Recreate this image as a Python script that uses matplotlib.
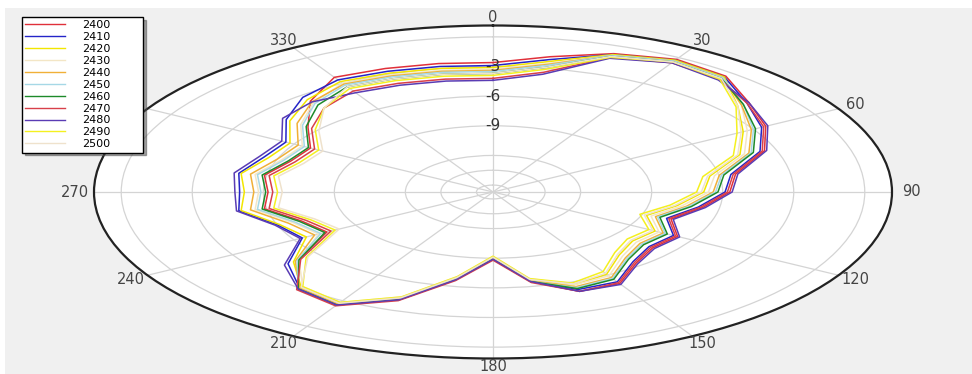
import numpy as np
import matplotlib
matplotlib.use("Agg")
import matplotlib.pyplot as plt
from matplotlib.patches import Rectangle

# angles in degrees, 10 deg steps, clockwise from north
angles = list(range(0, 360, 10))

freqs = ["2400", "2410", "2420", "2430", "2440", "2450",
         "2460", "2470", "2480", "2490", "2500"]
colors = ["#e0303a", "#2424c8", "#f2e600", "#f3e6c6", "#f0b038", "#a6d8e6",
          "#1d8a2a", "#d8404a", "#5a3cb4", "#f4f020", "#efe2cc"]

# normalized gain (dB)
g2400 = [-2.6, -1.8, -0.8, -0.2, -0.4, -1.6, -2.4, -3.5, -5.3, -5.7, -6.7, -7.7,
         -6.7, -6.9, -6.3, -5.0, -5.0, -6.5, -8.9, -6.7, -4.1, -2.5, -2.9, -5.0,
         -7.6, -7.1, -5.9, -6.2, -5.9, -6.6, -6.8, -5.5, -3.7, -2.3, -2.4, -2.5]
g2410 = [-2.9, -2.1, -0.9, -0.3, -0.5, -1.7, -2.6, -3.7, -5.5, -5.9, -6.9, -7.9,
         -6.9, -7.1, -6.5, -5.2, -5.2, -6.6, -9.0, -6.8, -4.2, -2.6, -3.0, -4.4,
         -6.4, -6.0, -4.8, -5.0, -4.8, -5.4, -5.6, -4.3, -3.2, -2.6, -2.7, -2.8]
g2420 = [-3.1, -2.3, -0.9, -0.3, -0.5, -2.2, -3.5, -4.6, -6.4, -6.8, -7.8, -8.8,
         -7.8, -8.0, -7.4, -6.1, -5.7, -6.7, -9.1, -6.9, -4.3, -2.7, -3.1, -4.7,
         -6.6, -6.1, -4.9, -5.2, -4.9, -5.6, -5.8, -4.5, -3.5, -2.8, -2.9, -3.0]
g2430 = [-3.3, -2.5, -1.0, -0.4, -0.6, -2.0, -3.3, -4.4, -6.2, -6.6, -7.6, -8.6,
         -7.6, -7.8, -7.2, -5.9, -5.7, -6.8, -9.2, -7.0, -4.4, -2.8, -3.2, -5.0,
         -7.2, -6.7, -5.5, -5.8, -5.5, -6.2, -6.4, -5.1, -3.9, -3.0, -3.1, -3.2]
g2440 = [-3.4, -2.6, -1.0, -0.4, -0.6, -2.0, -3.1, -4.2, -6.0, -6.4, -7.4, -8.4,
         -7.4, -7.6, -7.0, -5.7, -5.5, -6.6, -9.0, -6.8, -4.2, -2.6, -3.0, -4.8,
         -7.0, -6.5, -5.3, -5.6, -5.3, -6.0, -6.2, -4.9, -3.8, -3.1, -3.2, -3.3]
g2450 = [-3.5, -2.7, -1.0, -0.4, -0.6, -1.9, -3.0, -4.1, -5.9, -6.3, -7.3, -8.3,
         -7.3, -7.5, -6.9, -5.6, -5.4, -6.5, -8.9, -6.7, -4.1, -2.5, -2.9, -4.9,
         -7.3, -6.8, -5.6, -5.9, -5.6, -6.3, -6.5, -5.2, -4.0, -3.2, -3.3, -3.4]
g2460 = [-3.7, -2.9, -1.1, -0.5, -0.7, -1.9, -2.9, -4.0, -5.8, -6.2, -7.2, -8.2,
         -7.2, -7.4, -6.8, -5.5, -5.3, -6.5, -8.9, -6.7, -4.1, -2.5, -2.9, -5.0,
         -7.5, -7.0, -5.8, -6.1, -5.8, -6.5, -6.7, -5.4, -4.2, -3.4, -3.5, -3.6]
g2470 = [-4.2, -3.4, -1.2, -0.6, -0.8, -1.7, -2.5, -3.6, -5.4, -5.8, -6.8, -7.8,
         -6.8, -7.0, -6.4, -5.1, -5.0, -6.4, -8.8, -6.6, -4.0, -2.4, -2.8, -5.1,
         -7.8, -7.3, -6.1, -6.4, -6.1, -6.8, -7.0, -5.7, -4.6, -3.9, -4.0, -4.1]
g2480 = [-4.4, -3.6, -1.3, -0.6, -0.9, -1.6, -2.3, -3.4, -5.2, -5.6, -6.6, -7.6,
         -6.6, -6.8, -6.2, -4.9, -5.0, -6.5, -8.9, -6.7, -4.1, -2.5, -2.9, -4.2,
         -6.3, -5.9, -4.7, -4.8, -4.6, -5.2, -5.4, -4.1, -3.8, -4.1, -4.2, -4.3]
g2490 = [-3.9, -3.1, -1.2, -0.5, -0.8, -2.3, -3.8, -4.9, -6.7, -7.1, -8.1, -9.1,
         -8.1, -8.3, -7.7, -6.4, -5.9, -6.8, -9.2, -7.0, -4.4, -2.8, -3.2, -5.4,
         -8.0, -7.5, -6.3, -6.6, -6.3, -7.0, -7.2, -5.9, -4.6, -3.6, -3.7, -3.8]
g2500 = [-3.7, -2.9, -1.1, -0.5, -0.7, -2.2, -3.6, -4.7, -6.5, -6.9, -7.9, -8.9,
         -7.9, -8.1, -7.5, -6.2, -5.8, -6.7, -9.1, -6.9, -4.3, -2.7, -3.1, -5.5,
         -8.2, -7.7, -6.5, -6.8, -6.5, -7.2, -7.4, -6.1, -4.6, -3.4, -3.5, -3.6]

gains = [g2400, g2410, g2420, g2430, g2440, g2450,
         g2460, g2470, g2480, g2490, g2500]

r_rings = [-15, -13.5, -12, -9, -6, -3, 0]
r_labels = ["-3", "-6", "-9"]
theta_ticks = list(range(0, 360, 30))

fig = plt.figure(figsize=(9.72, 3.74), dpi=100)
fig.patch.set_facecolor("white")
fig.patches.append(Rectangle((5 / 972, 0), 1, 1 - 8 / 374, transform=fig.transFigure,
                             facecolor="#f0f0f0", edgecolor="none", zorder=-10))

ax = fig.add_axes([94 / 972, 15.5 / 374, 798 / 972, 333 / 374], projection="polar")
ax.set_aspect("auto")
ax.set_facecolor("white")
ax.set_theta_zero_location("N")
ax.set_theta_direction(-1)
ax.set_rlim(-15.7, 1.15)

theta = np.deg2rad(angles + [angles[0]])
for f, c, g in zip(freqs, colors, gains):
    ax.plot(theta, g + [g[0]], color=c, lw=1.1, label=f, zorder=3)

ax.set_rticks(r_rings)
ax.set_yticklabels([])
ax.set_xticks(np.deg2rad(theta_ticks))
ax.set_xticklabels([])
ax.grid(True, color="#d4d4d4", lw=0.9)
ax.spines["polar"].set_color("#222222")
ax.spines["polar"].set_linewidth(1.6)

# angle labels just outside the rim, following the ellipse
for a in theta_ticks:
    ax.text(np.deg2rad(a), 1.95, str(a), ha="center", va="center",
            fontsize=10.5, color="#444444", clip_on=False)

for lab in r_labels:
    ax.text(0, float(lab), lab, ha="center", va="center", fontsize=11,
            color="#333333", zorder=4)

leg = fig.legend(loc="upper left",
                 bbox_to_anchor=(22 / 972, 1 - 149 / 374, 121 / 972, 132 / 374),
                 mode="expand", fontsize=8, frameon=True, fancybox=False,
                 shadow=True, handlelength=3.6, labelspacing=0.17,
                 borderpad=0.3, handletextpad=1.5, borderaxespad=0)
leg.get_frame().set_edgecolor("black")
leg.get_frame().set_linewidth(1.0)
for h in leg.get_lines():
    h.set_linewidth(1.0)

fig.savefig("out.png", dpi=100)
